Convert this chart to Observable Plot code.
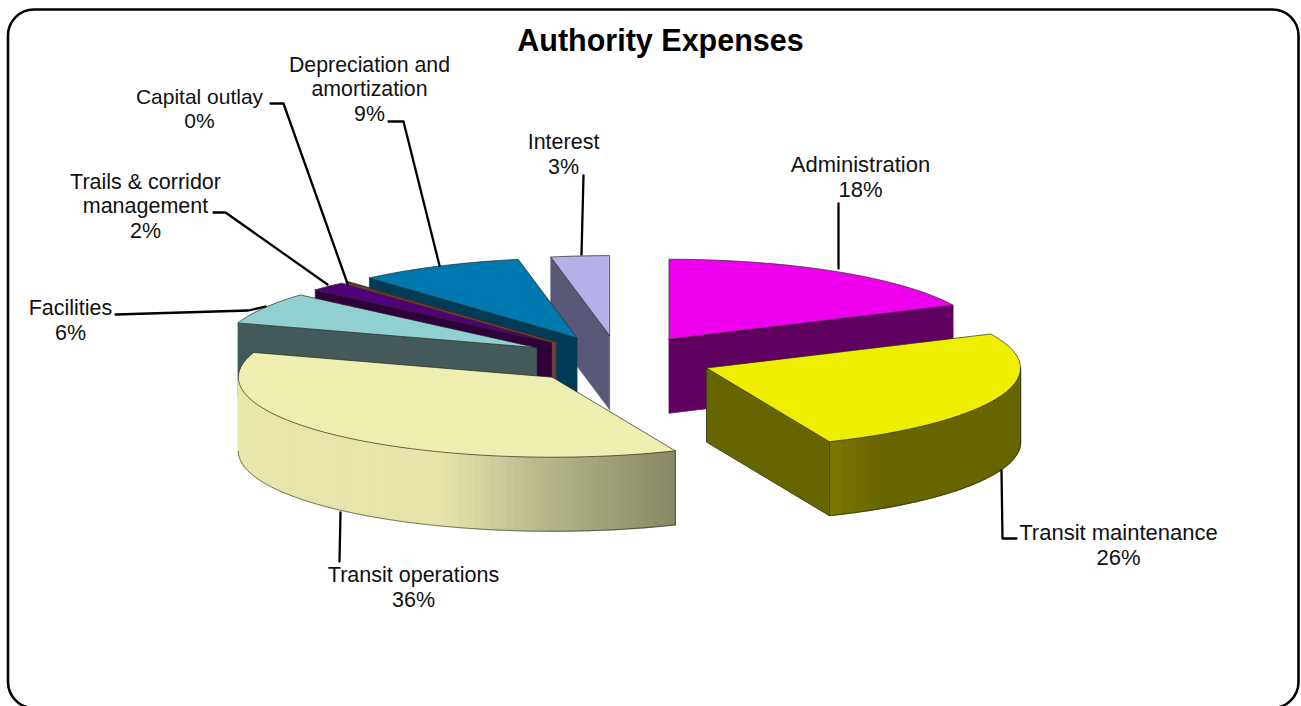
<!DOCTYPE html>
<html>
<head>
<meta charset="utf-8">
<style>html,body{margin:0;padding:0;background:#fff;overflow:hidden}svg{display:block}</style>
<script src="https://cdn.jsdelivr.net/npm/d3@7"></script>
<script src="https://cdn.jsdelivr.net/npm/@observablehq/plot@0.6"></script>
</head>
<body>
<div id="chart"></div>
<script>
// ---- data ----
const categories = ["Administration","Transit maintenance","Transit operations","Facilities","Trails & corridor\nmanagement","Capital outlay","Depreciation and\namortization","Interest"];
const values = [18, 25.6, 36.4, 6.45, 1.9, 0.15, 8.5, 3];
const topColors = ["#ee00ee","#eeee00","#eeeeb0","#90d0d0","#500078","#8c4030","#0078b0","#b4b0e8"];
const sideColors = ["#600060","#666600","#e8e4aa","#44595a","#30003c","#703c3c","#003c58","#5a5878"];
const title = "Authority Expenses";

// ---- pie projection (layout, not data) ----
const W = 1301, H = 706;
const C = {x: 618, y: 359}, A = 314, B = 80, DEPTH = 74, EXPLODE = 0.3;
const total = d3.sum(values);
const rad = d => d * Math.PI / 180;
const wallShade = {
  1: d3.scaleLinear().domain([120, 170, 320]).range(["#807800", "#686600", "#666600"]),
  2: d3.scaleLinear().domain([-320, -110, -40, 30, 122]).range(["#e8e6ac", "#e6e4aa", "#c4c496", "#a8a87e", "#888866"])
};
const nudgeX = {2: -2.5};
let acc = 0;
const slices = values.map((v, i) => {
  const t0 = acc; acc += v / total * 360; const t1 = acc; const m = (t0 + t1) / 2;
  return {i, t0, t1,
    ax: C.x + EXPLODE * A * Math.sin(rad(m)) + (nudgeX[i] || 0),
    ay: C.y - EXPLODE * B * Math.cos(rad(m))};
});
const rim = (s, t) => [s.ax + A * Math.sin(rad(t)), s.ay - B * Math.cos(rad(t))];
const polys = [], edges = [];
let nextId = 0, nextEdge = 0;
const addPoly = (pts, fill, stroke, sw) => {
  const id = nextId++;
  [...pts, pts[0]].forEach(p => polys.push({id, x: p[0], y: p[1], fill, stroke, sw}));
};
const addEdge = pts => { const id = nextEdge++; pts.forEach(p => edges.push({id, x: p[0], y: p[1]})); };
const arcPts = (s, a, b) => d3.range(a, b, 1.5).concat(b).map(t => rim(s, t));
for (const i of [7, 6, 5, 4, 3, 0, 2, 1]) {
  const s = slices[i], apex = [s.ax, s.ay], side = sideColors[i];
  const down = p => [p[0], p[1] + DEPTH];
  if (s.t0 >= 180) { const r = rim(s, s.t0); addPoly([r, apex, down(apex), down(r)], side, side, 0.7); }
  if (s.t1 < 180) { const r = rim(s, s.t1); addPoly([apex, r, down(r), down(apex)], side, side, 0.7); }
  const lo = Math.max(s.t0, 90), hi = Math.min(s.t1, 270);
  if (hi > lo) {
    const ts = d3.range(lo, hi, 1.5).concat(hi);
    d3.pairs(ts).forEach(([a, b]) => {
      const p = rim(s, a), q = rim(s, b);
      const shade = wallShade[i] ? wallShade[i]((p[0] + q[0]) / 2 - s.ax) : side;
      addPoly([p, q, down(q), down(p)], shade, shade, 1.4);
    });
    addEdge(arcPts(s, lo, hi).map(down));
    addEdge([rim(s, lo), down(rim(s, lo))]);
  }
  addPoly([apex, ...arcPts(s, s.t0, s.t1)], topColors[i], "#2a2a20", 0.7);
  if (i === 1) { const r = rim(s, s.t1); addEdge([apex, down(apex), down(r), r]); }
}

const labelAt = [[860,176],[1118,544],[413,586],[70,319],[145,205],[199,108],[369,88],[563,153]];
const labelSize = [22, 22, 21.5, 21.5, 21.5, 21, 21.3, 21.5];
const labels = categories.map((c, i) => ({text: `${c}\n${Math.round(values[i])}%`, x: labelAt[i][0], y: labelAt[i][1], size: labelSize[i]}));
const leaderPaths = [
  [[838,203],[838,268]],
  [[1001,470],[1002,538],[1016,538]],
  [[340,512],[339,561]],
  [[115,314],[248,310],[265,306]],
  [[213,212],[225,212],[327,284]],
  [[270,103],[283,103],[347,283]],
  [[388,121],[403,121],[439,265]],
  [[583,175],[581,254]]
];
const leaders = leaderPaths.flatMap((p, i) => p.map(q => ({i, x: q[0], y: q[1]})));

const chart = Plot.plot({
  width: W, height: H, margin: 0,
  x: {domain: [0, W], range: [0, W], axis: null},
  y: {domain: [0, H], range: [0, H], axis: null},
  color: {type: "identity"},
  style: {background: "#fff"},
  marks: [
    Plot.rect([{x1: 8, x2: 1298.5, y1: 9.5, y2: 708}], {x1: "x1", x2: "x2", y1: "y1", y2: "y2", rx: 26, ry: 26, fill: "none", stroke: "#000", strokeWidth: 2.6}),
    Plot.line(polys, {x: "x", y: "y", z: "id", fill: "fill", stroke: "stroke", strokeWidth: "sw", curve: "linear"}),
    Plot.line(edges, {x: "x", y: "y", z: "id", stroke: "#222", strokeWidth: 0.7, strokeOpacity: 0.8, curve: "linear"}),
    Plot.line(leaders, {x: "x", y: "y", z: "i", stroke: "#000", strokeWidth: 2.3, curve: "linear"}),
    Plot.text(labels, {x: "x", y: "y", text: "text", fontFamily: "Liberation Sans, Arial, sans-serif", fontSize: "size", lineHeight: 1.14, fill: "#111", textAnchor: "middle", lineAnchor: "middle"}),
    Plot.text([title], {x: () => 660, y: () => 41, text: d => d, fontFamily: "Liberation Sans, Arial, sans-serif", fontSize: 30.5, fontWeight: "bold", fill: "#000", textAnchor: "middle", lineAnchor: "middle"})
  ]
});
document.getElementById("chart").append(chart);
</script>
</body>
</html>
